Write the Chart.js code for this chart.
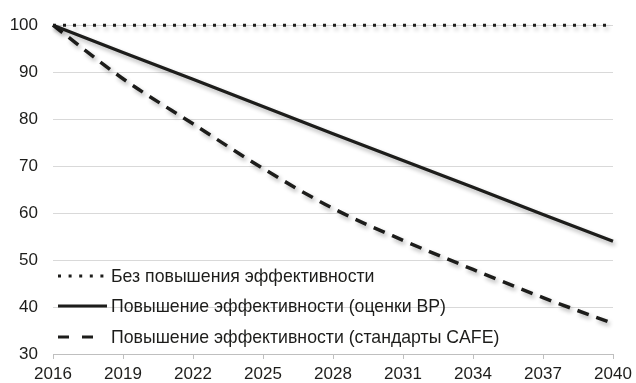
<!DOCTYPE html>
<html>
<head>
<meta charset="utf-8">
<script src="https://cdn.jsdelivr.net/npm/chart.js@4/dist/chart.umd.min.js"></script>
<style>
  html, body { margin: 0; padding: 0; background: #fff; }
  #wrap { width: 636px; height: 383px; }
</style>
</head>
<body>
<div id="wrap"><canvas id="chart"></canvas></div>
<script>
const years = [2016, 2019, 2022, 2025, 2028, 2031, 2034, 2037, 2040];
const noGain = [100, 100, 100, 100, 100, 100, 100, 100, 100];
const bpGain = [100, 94.2, 88.5, 82.7, 76.9, 71.2, 65.5, 59.7, 54];
const cafeGain = [100, 88.6, 79, 69.5, 61, 54.2, 48, 42, 36.5];
const seriesNames = [
    "Без повышения эффективности",
    "Повышение эффективности (оценки BP)",
    "Повышение эффективности (стандарты CAFE)"
];
const yTicks = [30, 40, 50, 60, 70, 80, 90, 100];

const ink = "#1d1d1b";
const font = "'Liberation Sans', Arial, sans-serif";

const toPoints = vals => years.map((x, i) => ({ x: x, y: vals[i] }));

/* soft drop shadow under the lines, like the original */
const shadowPlugin = {
    id: "shadow",
    beforeDatasetsDraw(chart) {
        const ctx = chart.ctx;
        ctx.save();
        ctx.shadowColor = "rgba(0,0,0,0.3)";
        ctx.shadowBlur = 4;
        ctx.shadowOffsetX = 2;
        ctx.shadowOffsetY = 3;
    },
    afterDatasetsDraw(chart) {
        chart.ctx.restore();
    }
};

/* legend sits inside the plot, bottom left */
const legendRows = [78, 48, 17];            // distance above the x axis
const legendDash = [[3, 7.6], [], [11, 13]];
const legendLen = [46, 49, 35];

const innerLegend = {
    id: "innerLegend",
    afterDraw(chart) {
        const ctx = chart.ctx;
        const area = chart.chartArea;
        ctx.save();
        ctx.font = "17.7px " + font;
        ctx.textBaseline = "middle";
        chart.data.datasets.forEach((ds, i) => {
            const y = area.bottom - legendRows[i];
            ctx.beginPath();
            ctx.strokeStyle = ds.borderColor;
            ctx.lineWidth = 3;
            ctx.setLineDash(legendDash[i]);
            ctx.lineCap = "butt";
            ctx.moveTo(area.left + 5, y);
            ctx.lineTo(area.left + 5 + legendLen[i], y);
            ctx.stroke();
            ctx.setLineDash([]);
            ctx.fillStyle = ink;
            ctx.fillText(ds.label, area.left + 58, y + 1.5);
        });
        ctx.restore();
    }
};

new Chart(document.getElementById("chart"), {
    type: "line",
    data: {
        datasets: [
            {
                label: seriesNames[0],
                data: toPoints(noGain),
                borderColor: ink,
                borderWidth: 3,
                borderDash: [3, 7],
                pointRadius: 0,
                clip: 10
            },
            {
                label: seriesNames[1],
                data: toPoints(bpGain),
                borderColor: ink,
                borderWidth: 3.2,
                pointRadius: 0,
                clip: 10
            },
            {
                label: seriesNames[2],
                data: toPoints(cafeGain),
                borderColor: ink,
                borderWidth: 3.5,
                borderDash: [12, 8],
                cubicInterpolationMode: "monotone",
                pointRadius: 0,
                clip: 10
            }
        ]
    },
    options: {
        responsive: true,
        maintainAspectRatio: false,
        animation: false,
        layout: { padding: { left: 0, right: 0, top: 20, bottom: -7 } },
        plugins: {
            legend: { display: false },
            tooltip: { enabled: false }
        },
        scales: {
            x: {
                type: "linear",
                min: years[0],
                max: years[years.length - 1],
                afterFit: axis => { axis.paddingRight = 23; },
                ticks: {
                    stepSize: 3,
                    color: ink,
                    font: { family: font, size: 17, lineHeight: 1 },
                    padding: 7,
                    maxRotation: 0,
                    callback: v => String(v)
                },
                grid: {
                    drawOnChartArea: false,
                    drawTicks: true,
                    tickLength: 5,
                    color: "#bfbfbf"
                },
                border: { display: true, color: "#bfbfbf" }
            },
            y: {
                min: yTicks[0],
                max: yTicks[yTicks.length - 1],
                afterBuildTicks: axis => {
                    axis.ticks = yTicks.map(v => ({ value: v }));
                },
                afterFit: axis => { axis.width = 53; },
                ticks: {
                    color: ink,
                    font: { family: font, size: 17 },
                    padding: 15
                },
                grid: {
                    color: "#d9d9d9",
                    drawTicks: false
                },
                border: { display: false }
            }
        }
    },
    plugins: [shadowPlugin, innerLegend]
});
</script>
</body>
</html>
